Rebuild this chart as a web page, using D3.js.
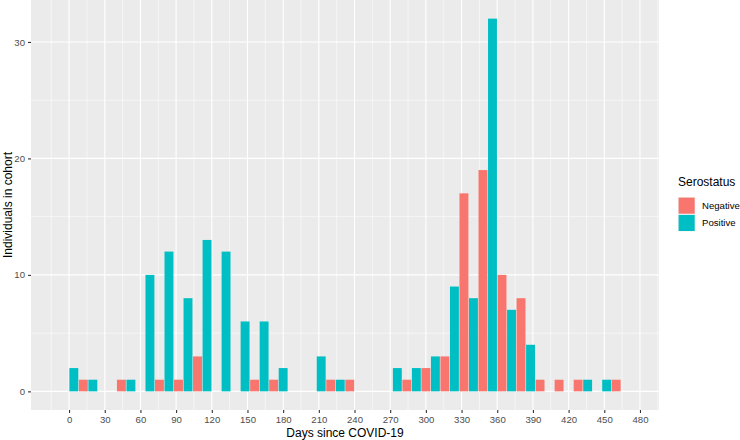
<!DOCTYPE html>
<html>
<head>
<meta charset="utf-8">
<script src="https://cdn.jsdelivr.net/npm/d3@7"></script>
<style>
  body { margin: 0; background: #fff; }
  text { font-family: "Liberation Sans", Arial, sans-serif; }
</style>
</head>
<body>
<div id="chart"></div>
<script>
// histogram bins, 16 days wide, given by their middle day
const binMid = [0, 16, 32, 48, 64, 80, 96, 112, 128, 144, 160, 176, 192, 208, 224,
  240, 256, 272, 288, 304, 320, 336, 352, 368, 384, 400, 416, 432, 448, 464];
const negative = [0, 1, 0, 1, 0, 1, 1, 3, 0, 0, 1, 1, 0, 0, 1,
  1, 0, 0, 1, 2, 3, 17, 19, 10, 8, 1, 1, 1, 0, 1];
const positive = [2, 1, 0, 1, 10, 12, 8, 13, 12, 6, 6, 2, 0, 3, 1,
  0, 0, 2, 2, 3, 9, 8, 32, 7, 4, 0, 0, 1, 1, 0];
const groups = ['Negative', 'Positive'];
const groupColors = ['#F8766D', '#00BFC4'];
const xTicks = [0, 30, 60, 90, 120, 150, 180, 210, 240, 270, 300, 330, 360, 390, 420, 450, 480];
const yTicks = [0, 10, 20, 30];

var width = 740;
var height = 440;
var panel = { left: 31, right: 659, top: 0, bottom: 410 };

var xScale = d3.scaleLinear()
  .domain([-32, 496])
  .range([panel.left, panel.right]);

var yScale = d3.scaleLinear()
  .domain([-1.6, 33.6])
  .range([panel.bottom, panel.top]);

var svg = d3.select('#chart')
  .append('svg')
  .attr('width', width)
  .attr('height', height);

// grey panel
svg.append('rect')
  .attr('x', panel.left)
  .attr('y', panel.top)
  .attr('width', panel.right - panel.left)
  .attr('height', panel.bottom - panel.top)
  .attr('fill', '#EBEBEB');

// minor grid lines sit half way between the major ones
var xMinor = d3.range(-15, 500, 30).filter(d => d > -32 && d < 496);
var yMinor = [5, 15, 25];

svg.append('g').selectAll('line')
  .data(xMinor)
  .enter()
  .append('line')
  .attr('x1', d => xScale(d)).attr('x2', d => xScale(d))
  .attr('y1', panel.top).attr('y2', panel.bottom)
  .attr('stroke', '#fff').attr('stroke-width', 0.55);

svg.append('g').selectAll('line')
  .data(yMinor)
  .enter()
  .append('line')
  .attr('x1', panel.left).attr('x2', panel.right)
  .attr('y1', d => yScale(d)).attr('y2', d => yScale(d))
  .attr('stroke', '#fff').attr('stroke-width', 0.55);

svg.append('g').selectAll('line')
  .data(xTicks)
  .enter()
  .append('line')
  .attr('x1', d => xScale(d)).attr('x2', d => xScale(d))
  .attr('y1', panel.top).attr('y2', panel.bottom)
  .attr('stroke', '#fff').attr('stroke-width', 1.1);

svg.append('g').selectAll('line')
  .data(yTicks)
  .enter()
  .append('line')
  .attr('x1', panel.left).attr('x2', panel.right)
  .attr('y1', d => yScale(d)).attr('y2', d => yScale(d))
  .attr('stroke', '#fff').attr('stroke-width', 1.1);

// bars: negative on the left half of each bin, positive on the right half
var bars = [];
binMid.forEach((m, i) => {
  bars.push({ x0: m - 8, x1: m, n: negative[i], g: 0 });
  bars.push({ x0: m, x1: m + 8, n: positive[i], g: 1 });
});

svg.append('g')
  .selectAll('rect')
  .data(bars.filter(d => d.n > 0))
  .enter()
  .append('rect')
  .attr('x', d => xScale(d.x0) + 0.3)
  .attr('width', d => xScale(d.x1) - xScale(d.x0) - 0.6)
  .attr('y', d => yScale(d.n))
  .attr('height', d => yScale(0) - yScale(d.n))
  .attr('fill', d => groupColors[d.g]);

// axes
var xAxis = svg.append('g')
  .attr('transform', 'translate(0,' + panel.bottom + ')')
  .call(d3.axisBottom(xScale).tickValues(xTicks).tickSize(3).tickPadding(3));

var yAxis = svg.append('g')
  .attr('transform', 'translate(' + panel.left + ',0)')
  .call(d3.axisLeft(yScale).tickValues(yTicks).tickSize(3).tickPadding(3));

[xAxis, yAxis].forEach(ax => {
  ax.select('.domain').remove();
  ax.selectAll('.tick line').attr('stroke', '#333333').attr('stroke-width', 1.1);
  ax.selectAll('.tick text')
    .attr('fill', '#4D4D4D')
    .style('font-size', '9.6px')
    .style('font-family', '"Liberation Sans", Arial, sans-serif');
});

svg.append('text')
  .attr('x', (panel.left + panel.right) / 2)
  .attr('y', 436.5)
  .attr('text-anchor', 'middle')
  .style('font-size', '12px')
  .text('Days since COVID-19');

svg.append('text')
  .attr('transform', 'translate(11.5,' + (panel.top + panel.bottom) / 2 + ') rotate(-90)')
  .attr('text-anchor', 'middle')
  .style('font-size', '12px')
  .text('Individuals in cohort');

// legend
var legend = svg.append('g').attr('transform', 'translate(678,0)');

legend.append('text')
  .attr('x', 0)
  .attr('y', 186)
  .style('font-size', '12px')
  .text('Serostatus');

var keys = legend.selectAll('g.key')
  .data(groups)
  .enter()
  .append('g')
  .attr('class', 'key')
  .attr('transform', (d, i) => 'translate(0,' + (197 + i * 17.3) + ')');

keys.append('rect')
  .attr('width', 17.3)
  .attr('height', 17.3)
  .attr('fill', '#F2F2F2');

keys.append('rect')
  .attr('x', 0.6).attr('y', 0.6)
  .attr('width', 16.1)
  .attr('height', 16.1)
  .attr('fill', (d, i) => groupColors[i]);

keys.append('text')
  .attr('x', 24)
  .attr('y', 8.65)
  .attr('dy', '0.35em')
  .style('font-size', '9.6px')
  .text(d => d);
</script>
</body>
</html>
